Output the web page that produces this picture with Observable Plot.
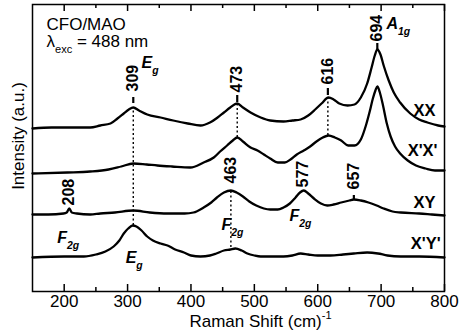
<!DOCTYPE html>
<html><head><meta charset="utf-8">
<script src="https://cdn.jsdelivr.net/npm/d3@7"></script>
<script src="https://cdn.jsdelivr.net/npm/@observablehq/plot@0.6"></script>
<style>body{margin:0;background:#fff} svg{display:block}</style>
</head><body><div id="chart"></div>
<script>
// Raman spectra (shift in cm^-1, intensity in arbitrary units incl. vertical offset)
const xx = [[150,163],[180,164],[205,164],[241,164],[257,166],[273,168],[284,173],[294,178],[302,182],[309,184],[318,181],[331,177],[352,174],[372,171],[395,168],[415,166],[430,169],[442,174],[452,179],[462,184],[473,188],[482,184],[494,179],[510,174],[525,171],[546,170],[560,171],[573,172],[585,176],[596,182],[606,188],[617,194],[625,192],[634,188],[647,186],[658,187],[668,194],[678,208],[685,224],[690,236],[694,242],[699,237],[704,226],[712,211],[720,199],[730,189],[746,178],[760,172],[773,169],[790,166],[800,165]];
const xpxp = [[150,118],[205,119],[241,120],[270,122],[290,125],[309,128],[330,127],[347,126],[370,125],[399,124],[420,129],[436,134],[446,140],[457,146],[466,151],[473,154],[482,150],[494,144],[505,141],[515,137],[525,133],[537,129],[548,129],[557,132],[567,137],[578,141],[588,145],[598,150],[608,154],[617,156],[627,154],[637,151],[648,146],[658,146],[668,152],[676,166],[682,180],[687,193],[691,201],[694,205],[698,199],[703,186],[709,168],[715,155],[722,145],[730,138],[742,131],[755,126],[770,123],[785,121],[800,121]];
const xy = [[150,77],[175,77],[199,78],[204,79],[208,83],[212,79],[220,78],[241,77],[257,78],[280,79],[309,81],[335,79],[363,78],[390,78],[404,79],[420,84],[432,89],[441,94],[452,99],[463,101],[472,99],[482,95],[492,90],[503,86],[515,83],[525,82],[537,82],[546,84],[556,88],[565,94],[572,99],[578,101],[585,98],[594,93],[605,88],[615,86],[625,87],[637,89],[650,91],[657,92],[668,91],[680,89],[693,86],[704,83],[718,80],[731,79],[760,78],[780,77],[800,76]];
const xpyp = [[150,34],[200,35],[231,35],[250,37],[265,40],[278,45],[287,51],[294,58],[301,63],[308,66],[314,65],[322,61],[331,55],[340,51],[352,48],[363,46],[375,42],[389,39],[400,36],[415,35],[430,36],[440,38],[452,41],[462,42],[470,43],[480,41],[489,38],[500,36],[510,35],[530,35],[546,35],[560,36],[573,38],[585,37],[600,36],[620,36],[640,37],[657,38],[678,39],[695,38],[710,36],[731,35],[760,35],[800,34]];

const seriesNames = ["XX", "X'X'", "XY", "X'Y'"];
const seriesPoints = [xx, xpxp, xy, xpyp];
const seriesLabelShift = [786, 789, 786, 794];
const seriesLabelLevel = [176, 136, 84, 43];

const peakNames = ["309", "473", "616", "694", "208", "463", "577", "657"];
const peakShifts = [309, 473, 616, 694, 208, 463, 577, 657];
const peakLabelLevel = [200, 199, 207, 250, 86, 108, 104, 102];

const dashShifts = [309, 473, 616, 694, 657];
const dashLow = [188, 189, 196, 242, 91];
const dashHigh = [194, 196, 203, 248, 96];

const dotShifts = [309, 473, 616, 463];
const dotTop = [183, 187, 194, 101];
const dotBottom = [66, 154, 156, 44];

const modeMain = ["E", "A", "F", "E", "F", "F"];
const modeSub = ["g", "1g", "2g", "g", "2g", "2g"];
const modeShift = [322, 708.5, 189, 297, 448, 555.5];
const modeLevel = [224, 263, 49, 29, 62, 71];

const majorTicks = [200, 300, 400, 500, 600, 700, 800];
const minorTicks = [250, 350, 450, 550, 650, 750];

const curveData = seriesNames.flatMap((name, i) => seriesPoints[i].map(([shift, intensity]) => ({series: name, shift, intensity})));
const pols = seriesNames.map((name, i) => ({name, shift: seriesLabelShift[i], level: seriesLabelLevel[i]}));
const peaks = peakNames.map((name, i) => ({name, shift: peakShifts[i], level: peakLabelLevel[i]}));
const dashes = dashShifts.map((shift, i) => ({shift, lo: dashLow[i], hi: dashHigh[i]}));
const dots = dotShifts.map((shift, i) => ({shift, top: dotTop[i], bottom: dotBottom[i]}));
const modes = modeMain.map((m, i) => ({label: `${m}_{${modeSub[i]}}`, shift: modeShift[i], level: modeLevel[i]}));

const font = "'Liberation Sans', Arial, Helvetica, sans-serif";
const plot = Plot.plot({
  width: 463, height: 331,
  marginTop: 4, marginRight: 19, marginBottom: 40, marginLeft: 32,
  style: {fontFamily: font, background: "#fff", color: "#000"},
  x: {domain: [150, 800]},
  y: {domain: [0, 287], axis: null},
  marks: [
    Plot.ruleX(dots, {x: "shift", y1: "bottom", y2: "top", stroke: "#000", strokeWidth: 1.4, strokeDasharray: "2,2.5"}),
    Plot.line(curveData, {x: "shift", y: "intensity", z: "series", stroke: "#000", strokeWidth: 2.3, curve: "monotone-x"}),
    Plot.ruleX(dashes, {x: "shift", y1: "lo", y2: "hi", stroke: "#000", strokeWidth: 2.2}),
    Plot.text(peaks, {x: "shift", y: "level", text: "name", rotate: -90, textAnchor: "start", lineAnchor: "middle", fontWeight: "bold", fontSize: 16, fill: "#000"}),
    Plot.text(modes, {x: "shift", y: "level", text: "label", textAnchor: "start", lineAnchor: "bottom", fontWeight: "bold", fontStyle: "italic", fontSize: 16, fill: "#000"}),
    Plot.text(pols, {x: "shift", y: "level", text: "name", textAnchor: "end", lineAnchor: "bottom", fontWeight: "bold", fontSize: 16.5, fill: "#000"}),
    Plot.text(["CFO/MAO"], {text: d => d, frameAnchor: "top-left", textAnchor: "start", lineAnchor: "bottom", dx: 14, dy: 25.5, fontSize: 17, fill: "#000"}),
    Plot.text(["λ_{exc} = 488 nm"], {text: d => d, frameAnchor: "top-left", textAnchor: "start", lineAnchor: "bottom", dx: 14, dy: 42, fontSize: 17, fill: "#000"}),
    Plot.ruleX(majorTicks, {x: d => d, insetTop: 280, strokeWidth: 1.5}),
    Plot.ruleX(majorTicks, {x: d => d, insetBottom: 280, strokeWidth: 1.5}),
    Plot.ruleX(minorTicks, {x: d => d, insetTop: 283, strokeWidth: 1.5}),
    Plot.ruleX(minorTicks, {x: d => d, insetBottom: 283, strokeWidth: 1.5}),
    Plot.axisX({ticks: majorTicks, tickSize: 0, tickPadding: 3.5, fontSize: 17, label: null}),
    Plot.text(["Raman Shift (cm)^{-1}"], {text: d => d, frameAnchor: "bottom", textAnchor: "middle", lineAnchor: "bottom", dx: 22, dy: 35.5, fontSize: 17, fill: "#000"}),
    Plot.text(["Intensity (a.u.)"], {text: d => d, frameAnchor: "left", rotate: -90, textAnchor: "middle", lineAnchor: "middle", dx: -14, dy: -12, fontSize: 17, fill: "#000"}),
    Plot.frame({stroke: "#000", strokeWidth: 1.5})
  ]
});
document.getElementById("chart").append(plot);

// Turn _{...} and ^{...} markup into real subscript / superscript tspans
function richify(root) {
  root.querySelectorAll("text").forEach(el => {
    const s = el.textContent;
    if (!/[_^]\{/.test(s)) return;
    const fs = parseFloat(getComputedStyle(el).fontSize) || 16;
    const parts = [];
    const re = /([_^])\{([^}]*)\}/g;
    let last = 0, m;
    while ((m = re.exec(s))) {
      if (m.index > last) parts.push({t: s.slice(last, m.index), k: ""});
      parts.push({t: m[2], k: m[1]});
      last = re.lastIndex;
    }
    if (last < s.length) parts.push({t: s.slice(last), k: ""});
    while (el.firstChild) el.removeChild(el.firstChild);
    let shift = 0;
    for (const p of parts) {
      const ts = document.createElementNS("http://www.w3.org/2000/svg", "tspan");
      const target = p.k === "_" ? fs * 0.38 : p.k === "^" ? -fs * 0.45 : 0;
      if (target !== shift) ts.setAttribute("dy", target - shift);
      shift = target;
      if (p.k) ts.setAttribute("font-size", fs * 0.65);
      ts.textContent = p.t;
      el.appendChild(ts);
    }
  });
}
richify(plot);
</script>
</body></html>
